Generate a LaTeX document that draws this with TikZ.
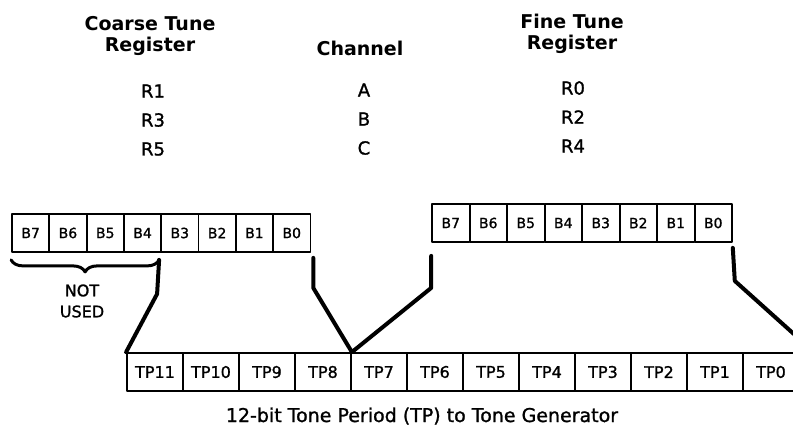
\documentclass[tikz,border=0pt]{standalone}
\usepackage{fontspec}
\setmainfont{DejaVu Sans}
\newfontfamily\scanfont{DejaVu Sans}[FakeBold=1.2]
\usetikzlibrary{decorations.pathreplacing}

\begin{document}
\begin{tikzpicture}[x=1pt,y=-1pt,line join=round]

  \tikzstyle{every node}=[inner sep=0pt]
  \tikzstyle{head}=[font=\fontsize{19}{21}\selectfont\bfseries,align=center]
  \tikzstyle{reg}=[font=\fontsize{18}{21}\selectfont\scanfont]
  \tikzstyle{bitbox}=[draw,line width=1.8pt,minimum width=37.3pt,minimum height=38pt,
                      font=\fontsize{14}{16}\selectfont\scanfont]
  \tikzstyle{tpbox}=[bitbox,minimum width=56pt,font=\fontsize{16}{18}\selectfont\scanfont]
  \tikzstyle{link}=[line width=4pt,line cap=round]

  \clip (0,0) rectangle (793,429);

  \node[head] (CT) at (150,36) {Coarse Tune\\Register};
  \node[head] (CH) at (360,48) {Channel};
  \node[head] (FT) at (572,34) {Fine Tune\\Register};

  \foreach \c/\ch/\f/\y in {R1/A/R0/91,R3/B/R2/120,R5/C/R4/149} {
    \node[reg] (\c)  at (153,\y)   {\c};
    \node[reg] (\ch) at (364,\y-1) {\ch};
    \node[reg] (\f)  at (573,\y-3) {\f};
  }

  \foreach \i in {0,...,7}
    \node[bitbox] (C\i) at ({12+37.3*(7.5-\i)},233) {B\i};
  \foreach \i in {0,...,7}
    \node[bitbox] (F\i) at ({432+37.5*(7.5-\i)},223) {B\i};
  \foreach \i in {0,...,11}
    \node[tpbox] (T\i) at ({127+56*(11.5-\i)},372) {TP\i};

  \draw[link,line width=3pt,decorate,decoration={brace,mirror,amplitude=12pt}]
    ([yshift=-7pt]C7.south west) -- ([xshift=-3pt,yshift=-7pt]C4.south east) coordinate (NU);
  \node[font=\fontsize{16}{21}\selectfont\scanfont,align=center] (NT) at (82,301) {NOT\\USED};

  \coordinate (FE) at (815,353);

  \draw[link] (NU) -- ++(-2,34) -- (T11.north west);
  \draw[link] ([xshift=2pt,yshift=-5pt]C0.south east) -- ++(0,30) -- (T8.north east)
              -- ([yshift=-45pt]F7.south west) -- ([yshift=-13pt]F7.south west);
  \draw[link] ([yshift=-5pt]F0.south east) -- ++(2,33) -- (FE);

  \node[font=\fontsize{19}{22}\selectfont\scanfont,anchor=base] (CAP) at (422,422)
    {12-bit Tone Period (TP) to Tone Generator};
\end{tikzpicture}
\end{document}
